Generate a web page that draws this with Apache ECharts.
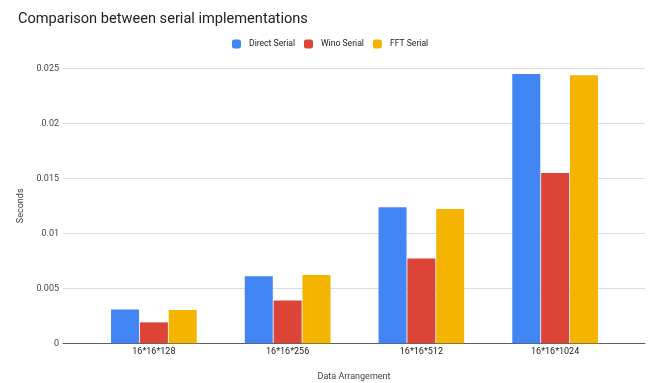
<!DOCTYPE html>
<html>
<head>
<meta charset="utf-8">
<script src="https://cdn.jsdelivr.net/npm/echarts@6/dist/echarts.min.js"></script>
<style>
  html, body { margin: 0; padding: 0; background: #fff; }
  #chart { width: 648px; height: 383px; }
</style>
</head>
<body>
<div id="chart"></div>
<script>
// Run times (seconds) for each data arrangement
const categories = ['16*16*128', '16*16*256', '16*16*512', '16*16*1024'];
const directSerial = [0.00308, 0.0061, 0.01236, 0.02448];
const winoSerial = [0.0019, 0.00388, 0.0077, 0.01548];
const fftSerial = [0.00303, 0.0062, 0.0122, 0.02436];
const seriesNames = ['Direct Serial', 'Wino Serial', 'FFT Serial'];
const yTicks = [0, 0.005, 0.01, 0.015, 0.02, 0.025];

const colors = ['#4285F4', '#DB4437', '#F4B400'];
const font = 'Roboto, "Noto Sans", sans-serif';
const yMax = yTicks[yTicks.length - 1];
const yStep = yTicks[1] - yTicks[0];

const chart = echarts.init(document.getElementById('chart'), null, { renderer: 'canvas' });

const mkSeries = (name, data, i) => ({
  name: name,
  type: 'bar',
  xAxisIndex: 1,
  yAxisIndex: 1,
  data: data,
  barWidth: 28,
  barGap: '3%',
  itemStyle: { color: colors[i] },
  emphasis: { disabled: true }
});

chart.setOption({
  animation: false,
  color: colors,
  textStyle: { fontFamily: font },
  title: {
    text: 'Comparison between serial implementations',
    left: 13,
    top: 7,
    textStyle: { fontFamily: font, fontSize: 14.6, fontWeight: 'normal', color: '#212121' }
  },
  legend: {
    left: 227,
    top: 34.5,
    itemWidth: 9,
    itemHeight: 9,
    itemGap: 9,
    icon: 'roundRect',
    textStyle: { fontFamily: font, fontSize: 8.6, color: '#222', padding: [0, 0, 0, 3] },
    data: seriesNames
  },
  // background grid (gridlines and baseline) and the bar grid share one value range
  grid: [
    { left: 63, right: 3, top: 68.3, bottom: 39.7, outerBoundsMode: 'none' },
    { left: 87, right: 26, top: 68.3, bottom: 39.7, outerBoundsMode: 'none' }
  ],
  xAxis: [
    {
      gridIndex: 0,
      type: 'value',
      min: 0,
      max: 1,
      axisLine: { show: true, onZero: false, lineStyle: { color: '#5f5f5f', width: 1 } },
      axisTick: { show: false },
      axisLabel: { show: false },
      splitLine: { show: false },
      name: 'Data Arrangement',
      nameLocation: 'middle',
      nameGap: 29,
      nameTextStyle: { fontFamily: font, fontSize: 9, color: '#444' }
    },
    {
      gridIndex: 1,
      type: 'category',
      data: categories,
      axisLine: { show: false },
      axisTick: { show: false },
      axisLabel: { fontFamily: font, fontSize: 9, color: '#222', margin: 4 }
    }
  ],
  yAxis: [
    {
      gridIndex: 0,
      type: 'value',
      min: 0,
      max: yMax,
      interval: yStep,
      axisLine: { show: false },
      axisTick: { show: false },
      axisLabel: { fontFamily: font, fontSize: 9, color: '#444', margin: 4 },
      splitLine: { lineStyle: { color: '#dcdcdc', width: 1 } },
      name: 'Seconds',
      nameLocation: 'middle',
      nameRotate: 90,
      nameGap: 37,
      nameTextStyle: { fontFamily: font, fontSize: 9, color: '#444' }
    },
    {
      gridIndex: 1,
      type: 'value',
      min: 0,
      max: yMax,
      interval: yStep,
      show: false
    }
  ],
  series: [
    mkSeries(seriesNames[0], directSerial, 0),
    mkSeries(seriesNames[1], winoSerial, 1),
    mkSeries(seriesNames[2], fftSerial, 2)
  ]
});
</script>
</body>
</html>
